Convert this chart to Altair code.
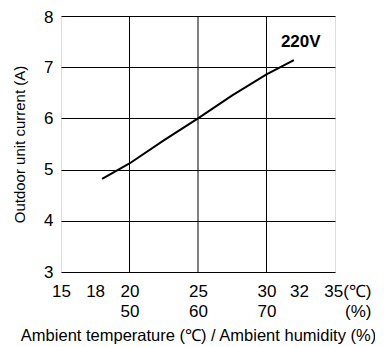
import altair as alt
import pandas as pd

# Data
temp = [18, 20, 22.5, 25, 27.5, 30, 32]
current = [4.82, 5.12, 5.57, 6.0, 6.45, 6.86, 7.14]

x_ticks = [15, 18, 20, 25, 30, 32, 35]
x_tick_top = ["15", "18", "20", "25", "30", "32", "35(℃)"]
x_tick_bottom = ["", "", "50", "60", "70", "", "(%)"]
x_grid = [20, 25, 30]
y_ticks = [3, 4, 5, 6, 7, 8]

series_label = "220V"
label_x = [32.5]
label_y = [7.5]

FONT = "Liberation Sans"

df = pd.DataFrame({"t": temp, "c": current})
grid_df = pd.DataFrame({"g": x_grid})
lab_df = pd.DataFrame({"x": label_x, "y": label_y, "txt": [series_label]})

label_map = "{" + ",".join(
    f"'{v}': ['{a}', '{b}']" for v, a, b in zip(x_ticks, x_tick_top, x_tick_bottom)
) + "}"

x_scale = alt.Scale(domain=[15, 35], nice=False, zero=False)
y_scale = alt.Scale(domain=[3, 8], nice=False, zero=False)

x_axis = alt.Axis(
    values=x_ticks,
    labelExpr=f"{label_map}[datum.value + '']",
    grid=False,
    ticks=False,
    domain=False,
    labelFont=FONT,
    labelFontSize=17,
    labelColor="black",
    labelPadding=11,
    labelLineHeight=20,
    labelAlign=alt.condition("datum.value == 35", alt.value("right"), alt.value("center")),
    labelOffset={
        "condition": [
            {"test": "datum.value == 18", "value": -7},
            {"test": "datum.value == 32", "value": 5},
            {"test": "datum.value == 35", "value": 36},
        ],
        "value": 0,
    },
    labelFlush=False,
    labelOverlap=False,
    title="Ambient temperature (℃) / Ambient humidity (%)",
    titleFont=FONT,
    titleFontSize=16.5,
    titleFontWeight="normal",
    titleColor="black",
    titlePadding=8,
)

y_axis = alt.Axis(
    values=y_ticks,
    grid=True,
    gridColor="black",
    gridWidth=1,
    gridOpacity=1,
    ticks=False,
    domain=False,
    labelFont=FONT,
    labelFontSize=17,
    labelColor="black",
    labelPadding=8,
    labelFlush=False,
    labelOffset={
        "condition": [{"test": "datum.value == 8", "value": 1}],
        "value": 0,
    },
    title="Outdoor unit current (A)",
    titleFont=FONT,
    titleFontSize=15,
    titleFontWeight="normal",
    titleColor="black",
    titlePadding=16,
)

base_line = alt.Chart(df).mark_line(color="black", strokeWidth=2).encode(
    x=alt.X("t:Q", scale=x_scale, axis=x_axis),
    y=alt.Y("c:Q", scale=y_scale, axis=y_axis),
)

vgrid = alt.Chart(grid_df).mark_rule(color="black", strokeWidth=1).encode(
    x=alt.X("g:Q", scale=x_scale),
)

label = alt.Chart(lab_df).mark_text(
    font=FONT, fontSize=17, fontWeight="bold", color="black"
).encode(
    x=alt.X("x:Q", scale=x_scale),
    y=alt.Y("y:Q", scale=y_scale),
    text="txt:N",
)

chart = alt.layer(vgrid, base_line, label).properties(
    width=274,
    height=256,
    padding={"left": 53, "top": 8, "right": 40, "bottom": 74},
    autosize=alt.AutoSizeParams(type="none"),
).configure_view(
    stroke="black", strokeWidth=1.5
).configure(background="white")

chart.save("out.html", embed_options={"renderer": "svg", "actions": False})
